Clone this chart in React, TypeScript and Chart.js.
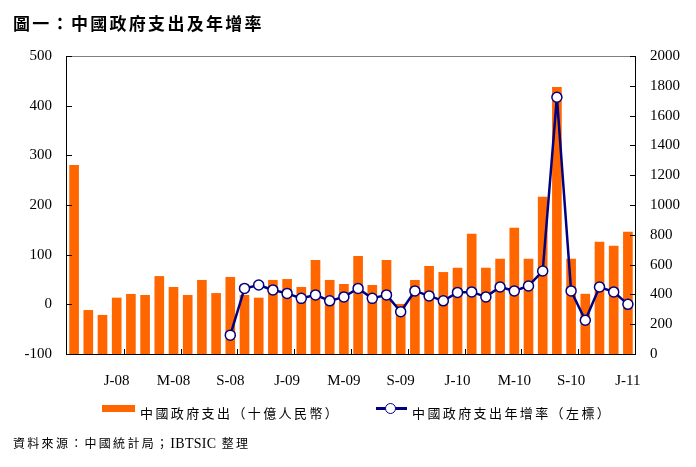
import React, { useEffect, useRef } from "react";
import { Chart, registerables } from "chart.js";

Chart.register(...registerables);

// Monthly categories (Oct 2007 – Jan 2011); every 4th one is shown on the axis
const categories = [
  "O-07", "N-07", "D-07", "J-08", "F-08", "M-08", "A-08", "M-08", "J-08", "J-08",
  "A-08", "S-08", "O-08", "N-08", "D-08", "J-09", "F-09", "M-09", "A-09", "M-09",
  "J-09", "J-09", "A-09", "S-09", "O-09", "N-09", "D-09", "J-10", "F-10", "M-10",
  "A-10", "M-10", "J-10", "J-10", "A-10", "S-10", "O-10", "N-10", "D-10", "J-11",
];

// 中國政府支出 (十億人民幣) — right axis
const spending = [
  1268, 295, 262, 378, 403, 396, 523, 450, 396, 497,
  409, 517, 396, 378, 497, 503, 450, 631, 497, 470,
  658, 463, 631, 336, 497, 591, 550, 579, 807, 579,
  639, 847, 639, 1055, 1792, 639, 404, 753, 726, 820,
];

// 中國政府支出年增率 (%) — left axis
const growth = [
  null, null, null, null, null, null, null, null, null, null,
  null, -62, 32, 39, 29, 22, 12, 19, 7, 15,
  32, 12, 19, -15, 27, 17, 7, 24, 25, 15,
  35, 27, 37, 67, 417, 27, -32, 35, 25, 0,
];

const leftRange = { min: -100, max: 500, step: 100 };
const rightRange = { min: 0, max: 2000, step: 200 };
const labelEvery = 4;

const TITLE = "圖一：中國政府支出及年增率";
const BAR_LABEL = "中國政府支出（十億人民幣）";
const LINE_LABEL = "中國政府支出年增率（左標）";
const SOURCE_A = "資料來源：中國統計局；";
const SOURCE_B = "IBTSIC";
const SOURCE_C = "整理";

const ORANGE = "#FF6600";
const NAVY = "#000080";
const LATIN = "'Liberation Serif', 'Times New Roman', serif";
const MIXED = "'Liberation Serif', 'Noto Sans CJK TC', 'Noto Sans CJK SC', serif";

const framePlugin = {
  id: "frame",
  afterDatasetsDraw(chart: any) {
    const { ctx, chartArea } = chart;
    const { left, right, top, bottom } = chartArea;
    const y = chart.scales.y;
    const y1 = chart.scales.y1;
    const x = chart.scales.x;
    ctx.save();
    ctx.lineWidth = 1;
    // top border (gray)
    ctx.strokeStyle = "#808080";
    ctx.beginPath();
    ctx.moveTo(left - 1, top + 0.5);
    ctx.lineTo(right + 1, top + 0.5);
    ctx.stroke();
    // axes (black)
    ctx.strokeStyle = "#000";
    ctx.beginPath();
    ctx.moveTo(left - 0.5, top);
    ctx.lineTo(left - 0.5, bottom + 1);
    ctx.moveTo(right + 0.5, top);
    ctx.lineTo(right + 0.5, bottom + 1);
    ctx.moveTo(left - 1, bottom + 0.5);
    ctx.lineTo(right + 1, bottom + 0.5);
    // inward tick marks on left axis
    y.ticks.forEach((t: any) => {
      const py = Math.round(y.getPixelForValue(t.value)) + 0.5;
      ctx.moveTo(left - 1, py);
      ctx.lineTo(left + 5, py);
    });
    // inward tick marks on right axis
    y1.ticks.forEach((t: any) => {
      const py = Math.round(y1.getPixelForValue(t.value)) + 0.5;
      ctx.moveTo(right - 5, py);
      ctx.lineTo(right + 1, py);
    });
    // inward tick marks between category groups
    for (let i = labelEvery - 1; i < categories.length - 1; i += labelEvery) {
      const px = Math.round((x.getPixelForValue(i) + x.getPixelForValue(i + 1)) / 2) + 0.5;
      ctx.moveTo(px, bottom);
      ctx.lineTo(px, bottom - 5);
    }
    ctx.stroke();
    ctx.restore();
  },
};

export default function App() {
  const canvasRef = useRef<HTMLCanvasElement | null>(null);

  useEffect(() => {
    const canvas = canvasRef.current;
    if (!canvas) return;
    const chart = new Chart(canvas, {
      type: "bar",
      data: {
        labels: categories,
        datasets: [
          {
            type: "line",
            label: LINE_LABEL,
            data: growth,
            yAxisID: "y",
            borderColor: NAVY,
            borderWidth: 2.5,
            pointRadius: 5,
            pointBackgroundColor: "#ffffff",
            pointBorderColor: NAVY,
            pointBorderWidth: 1.5,
            tension: 0,
            order: 0,
          } as any,
          {
            type: "bar",
            label: BAR_LABEL,
            data: spending,
            yAxisID: "y1",
            backgroundColor: ORANGE,
            barPercentage: 0.68,
            categoryPercentage: 1,
            order: 1,
          } as any,
        ],
      },
      options: {
        responsive: false,
        animation: false,
        layout: { padding: { top: 56, left: 0, right: 0, bottom: 0 } },
        plugins: {
          legend: { display: false },
          tooltip: { enabled: false },
          title: { display: false },
        },
        scales: {
          x: {
            grid: { display: false, drawTicks: false },
            border: { display: false },
            ticks: {
              autoSkip: false,
              maxRotation: 0,
              minRotation: 0,
              padding: 18,
              color: "#000",
              font: { family: LATIN, size: 15 },
              callback: (_v: any, i: number) => (i % labelEvery === labelEvery - 1 ? categories[i] : ""),
            },
            afterFit: (s: any) => {
              s.height = 113;
            },
          },
          y: {
            position: "left",
            min: leftRange.min,
            max: leftRange.max,
            grid: { display: false, drawTicks: false },
            border: { display: false },
            ticks: {
              stepSize: leftRange.step,
              padding: 15,
              color: "#000",
              font: { family: LATIN, size: 15 },
              callback: (v: any) => String(v),
            },
            afterFit: (s: any) => {
              s.width = 67;
            },
          },
          y1: {
            position: "right",
            min: rightRange.min,
            max: rightRange.max,
            grid: { display: false, drawTicks: false },
            border: { display: false },
            ticks: {
              stepSize: rightRange.step,
              padding: 15,
              color: "#000",
              font: { family: LATIN, size: 15 },
              callback: (v: any) => String(v),
            },
            afterFit: (s: any) => {
              s.width = 61;
            },
          },
        },
      } as any,
      plugins: [framePlugin],
    });
    return () => chart.destroy();
  }, []);

  const text: React.CSSProperties = { position: "absolute", whiteSpace: "nowrap", color: "#000" };

  return (
    <div style={{ position: "absolute", left: 0, top: 0, width: 696, height: 467, background: "#fff" }}>
      <canvas ref={canvasRef} width={696} height={467} style={{ display: "block", position: "absolute", left: 0, top: 0 }} />
      <div
        style={{
          ...text,
          left: 13,
          top: 14,
          lineHeight: "22px",
          fontFamily: MIXED,
          fontWeight: 700,
          fontSize: 17,
          letterSpacing: 2.3,
        }}
      >
        {TITLE}
      </div>
      <div style={{ position: "absolute", left: 102, top: 405, width: 33, height: 7, background: ORANGE }} />
      <div style={{ ...text, left: 140, top: 405, lineHeight: "18px", fontFamily: MIXED, fontSize: 13, letterSpacing: 2.4 }}>
        {BAR_LABEL}
      </div>
      <div style={{ position: "absolute", left: 376, top: 407, width: 31, height: 3, background: NAVY }} />
      <div
        style={{
          position: "absolute",
          left: 385,
          top: 402.5,
          width: 9,
          height: 9,
          borderRadius: "50%",
          background: "#fff",
          border: `1.5px solid ${NAVY}`,
        }}
      />
      <div style={{ ...text, left: 412, top: 405, lineHeight: "18px", fontFamily: MIXED, fontSize: 13, letterSpacing: 2.4 }}>
        {LINE_LABEL}
      </div>
      <div style={{ ...text, left: 13, top: 435, lineHeight: "18px", fontFamily: MIXED, fontSize: 12, letterSpacing: 2.3 }}>
        <span>{SOURCE_A}</span>
        <span style={{ fontFamily: LATIN, fontSize: 14, letterSpacing: 0.3 }}>{SOURCE_B}</span>
        <span> {SOURCE_C}</span>
      </div>
    </div>
  );
}
